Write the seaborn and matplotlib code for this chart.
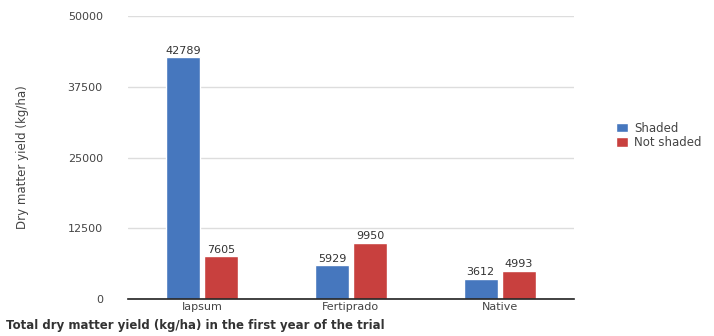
import matplotlib
matplotlib.use("Agg")
import matplotlib.pyplot as plt
import seaborn as sns
import pandas as pd
from matplotlib.patches import Patch

categories = ["Iapsum", "Fertiprado", "Native"]
shaded = [42789, 5929, 3612]
not_shaded = [7605, 9950, 4993]
series = ["Shaded", "Not shaded"]
yticks = [0, 12500, 25000, 37500, 50000]

df = pd.DataFrame({
    "cat": categories * 2,
    "val": shaded + not_shaded,
    "series": [series[0]] * 3 + [series[1]] * 3,
})

sns.set_theme(style="white")
plt.rcParams["font.family"] = ["DejaVu Sans"]
colors = ["#4677BE", "#C8403E"]

fig = plt.figure(figsize=(7.14, 3.36), dpi=100)
ax = fig.add_axes([0.179, 0.110, 0.625, 0.842])
sns.barplot(data=df, x="cat", y="val", hue="series", palette=colors,
            width=0.51, gap=0.1, ax=ax, legend=False, saturation=1)

ax.set_ylim(0, 50000)
ax.set_yticks(yticks)
ax.set_yticklabels([str(t) for t in yticks], fontsize=8, color="#444444")
ax.tick_params(axis="x", labelsize=8, colors="#444444", length=0, pad=2)
ax.tick_params(axis="y", length=0, pad=18)
ax.grid(axis="y", color="#dddddd", linewidth=1)
ax.set_axisbelow(True)
for s in ["top", "right", "left"]:
    ax.spines[s].set_visible(False)
ax.spines["bottom"].set_color("#222222")
ax.spines["bottom"].set_linewidth(1.2)
ax.set_xlabel("")
ax.set_ylabel("Dry matter yield (kg/ha)", fontsize=8.5, color="#444444", labelpad=28)

for c in ax.containers:
    ax.bar_label(c, fmt="%d", fontsize=8, color="#333333", padding=1)

handles = [Patch(facecolor=colors[i], label=series[i]) for i in range(2)]
fig.legend(handles=handles, loc="upper left", bbox_to_anchor=(0.848, 0.67),
           frameon=False, fontsize=8.5, handlelength=1.0, handleheight=0.9,
           handletextpad=0.5, labelspacing=0.1, labelcolor="#444444")

fig.text(0.008, 0.02, "Total dry matter yield (kg/ha) in the first year of the trial",
         fontsize=8.5, fontweight="bold", color="#333333")

fig.savefig("out.png", dpi=100)
